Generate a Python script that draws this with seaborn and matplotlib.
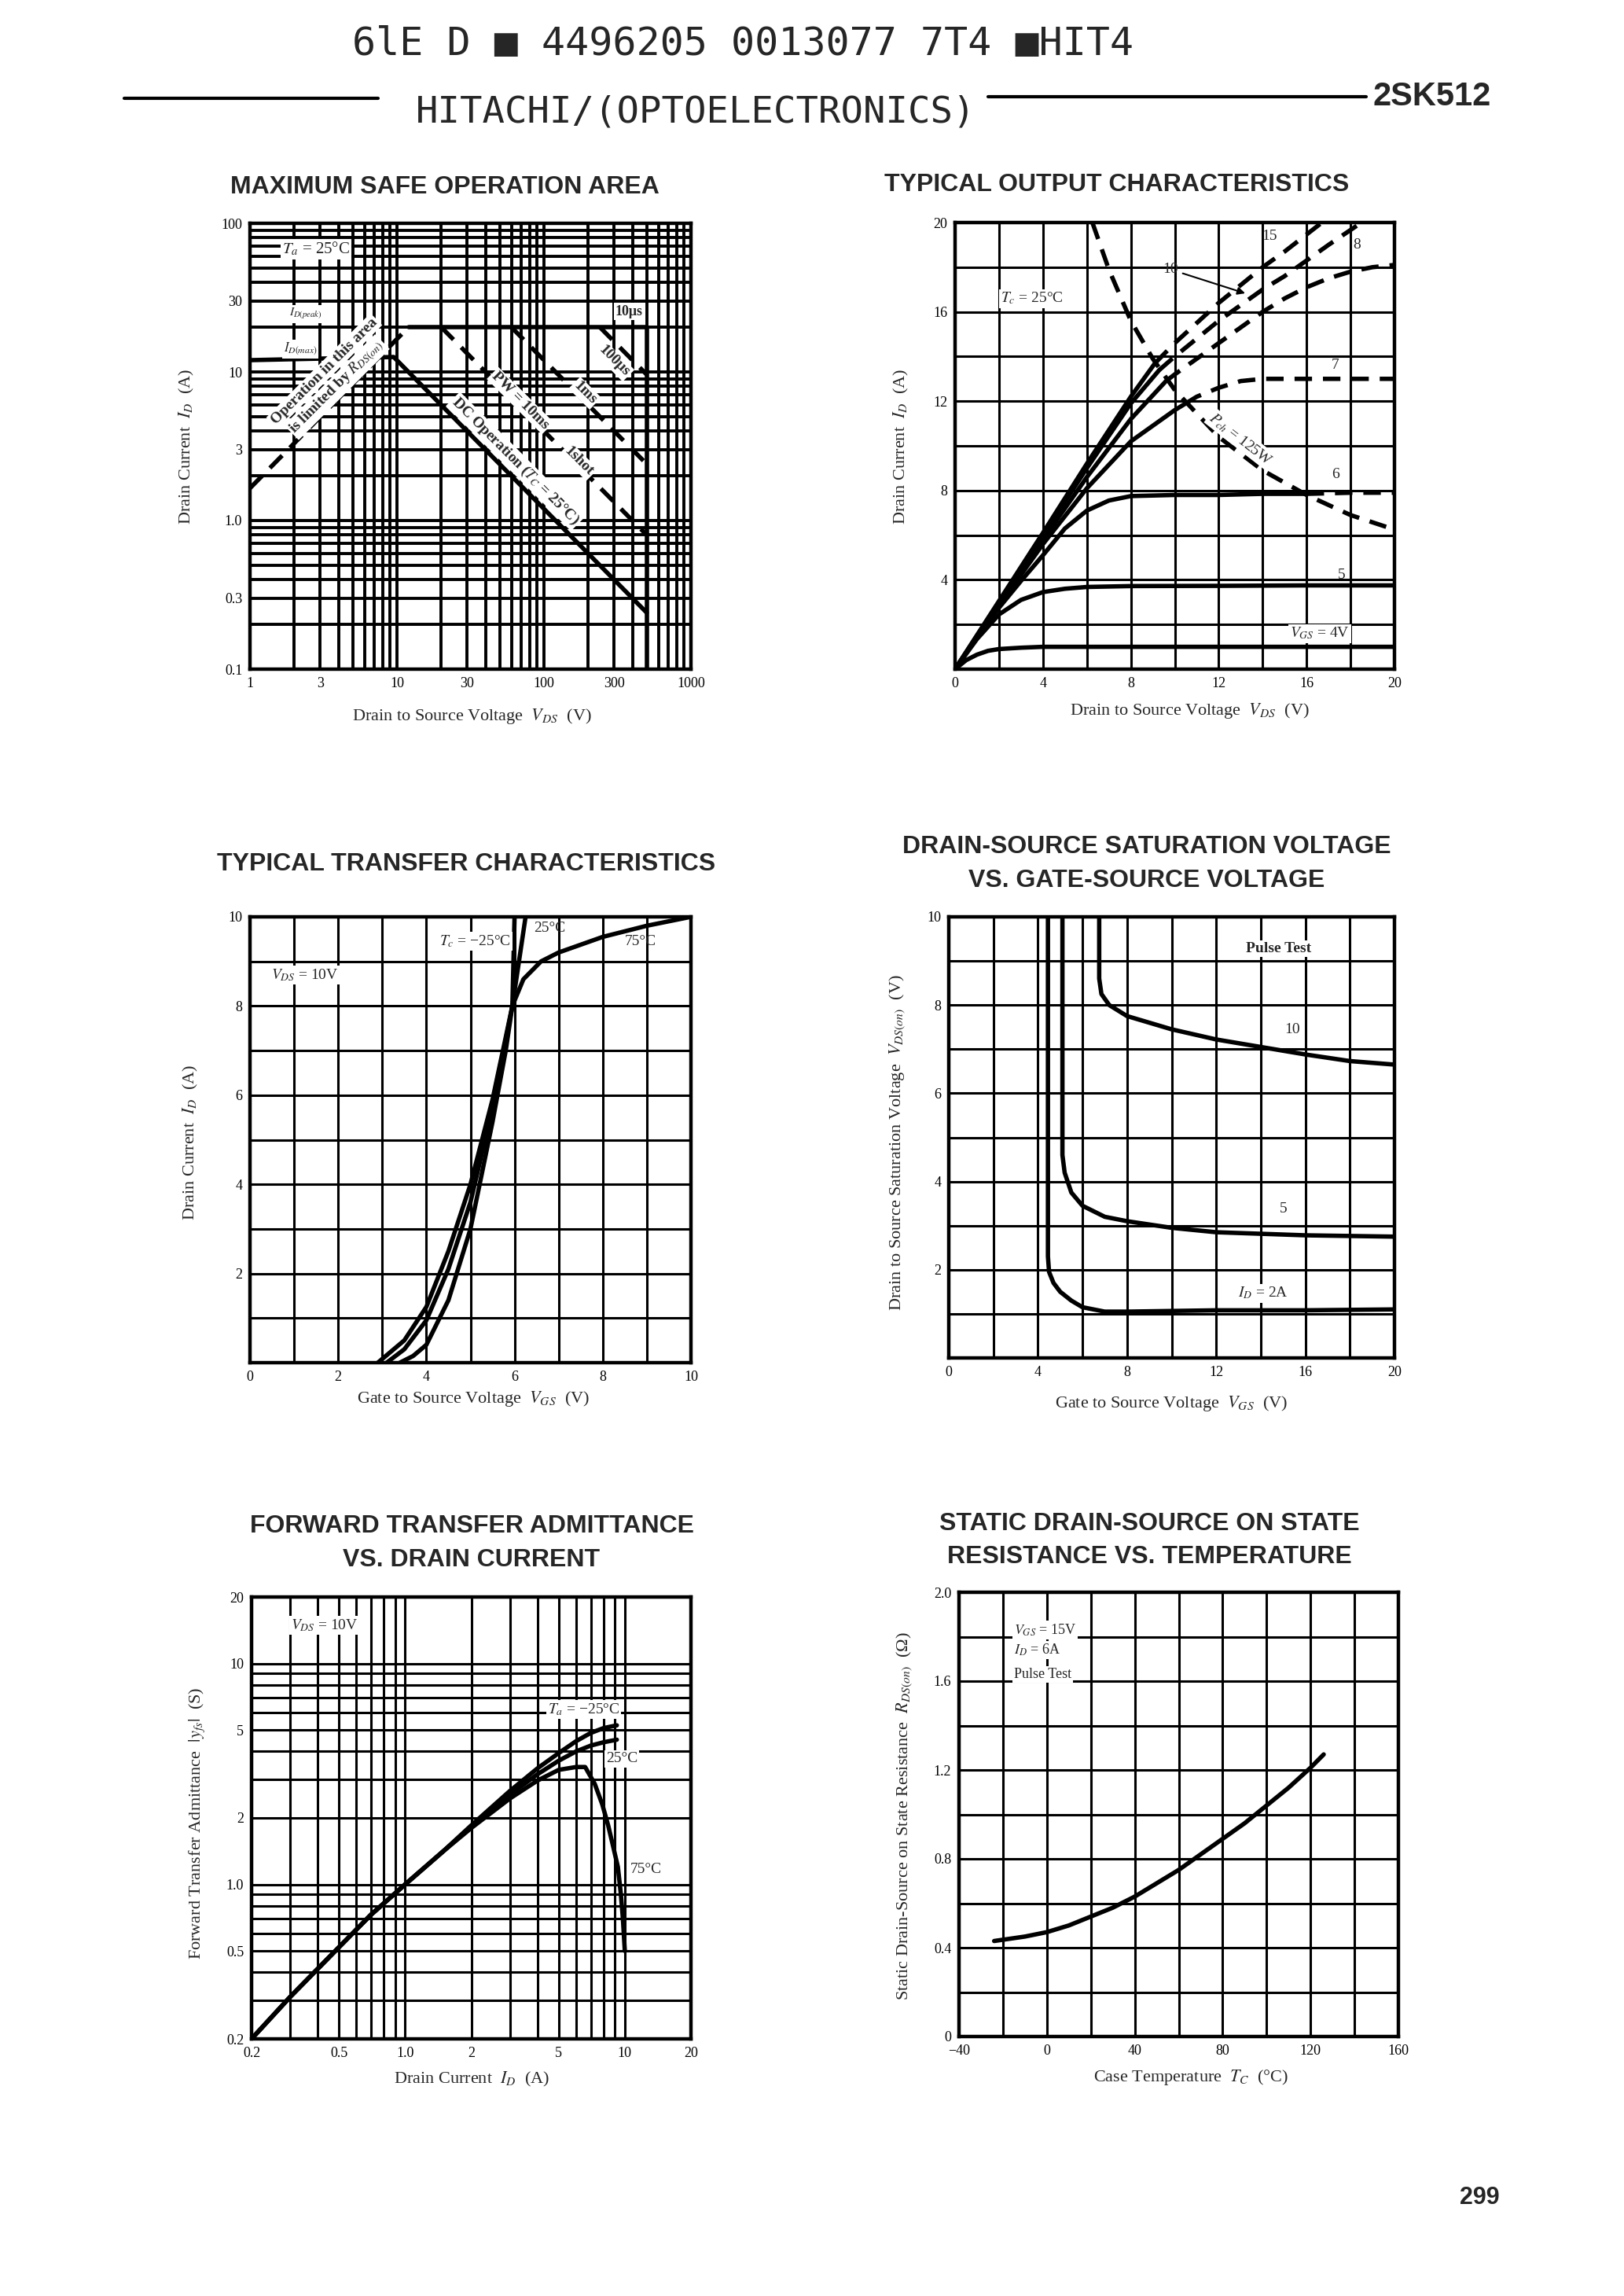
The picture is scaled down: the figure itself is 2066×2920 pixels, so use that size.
import numpy as np
import matplotlib
matplotlib.use("Agg")
import matplotlib.pyplot as plt
import seaborn as sns
from matplotlib.lines import Line2D
from matplotlib.ticker import FixedLocator, LogLocator, MultipleLocator, NullFormatter

# ==================================
# DATA
# ==================================

# Chart 1 - maximum safe operation area (VDS in V, ID in A)
soa_rds_v = [1, 12]
soa_rds_i = [1.65, 20]
soa_peak_v = [12, 500]
soa_peak_i = [20, 20]
soa_dc_v = [1, 9.5, 500]
soa_dc_i = [12, 12.6, 0.24]
soa_10ms_v = [20, 500]
soa_10ms_i = [20, 0.8]
soa_1ms_v = [60, 500]
soa_1ms_i = [20, 2.4]
soa_100us_v = [240, 500]
soa_100us_i = [20, 9.6]
soa_vdss_v = [500, 500]
soa_vdss_i = [20, 0.1]

# Chart 2 - typical output characteristics (solid up to the split VDS, dashed after)
out_4v_v = [0, 0.5, 1, 1.5, 2, 3, 4, 8, 12, 16, 20]
out_4v_i = [0, 0.4, 0.65, 0.82, 0.9, 0.96, 1.0, 1.0, 1.0, 1.0, 1.0]
out_5v_v = [0, 1, 2, 3, 4, 5, 6, 8, 12, 16, 20]
out_5v_i = [0, 1.35, 2.45, 3.1, 3.45, 3.6, 3.68, 3.72, 3.73, 3.75, 3.75]
out_6v_v = [0, 1, 2, 3, 4, 5, 6, 7, 8, 10, 12, 14, 16, 18, 20]
out_6v_i = [0, 1.45, 2.75, 3.95, 5.1, 6.3, 7.1, 7.55, 7.75, 7.8, 7.8, 7.85, 7.85, 7.9, 7.9]
out_7v_v = [0, 2, 4, 6, 8, 10, 10.5, 11, 12, 13, 14, 16, 18, 20]
out_7v_i = [0, 2.85, 5.6, 8.1, 10.2, 11.6, 11.9, 12.2, 12.6, 12.9, 13.0, 13.0, 13.0, 13.0]
out_8v_v = [0, 2, 4, 6, 8, 9.6, 10, 11, 12, 13, 14, 15, 16, 17, 18, 19, 20]
out_8v_i = [0, 2.9, 5.8, 8.6, 11.2, 12.9, 13.2, 13.9, 14.6, 15.3, 16.0, 16.6, 17.1, 17.5, 17.8, 18.0, 18.1]
out_10v_v = [0, 2, 4, 6, 8, 9.3, 10, 11, 12, 13, 14, 15, 16, 17, 18.5]
out_10v_i = [0, 3.0, 6.0, 9.0, 11.9, 13.4, 14.0, 14.8, 15.6, 16.3, 17.0, 17.6, 18.3, 19.0, 20.0]
out_15v_v = [0, 2, 4, 6, 8, 9.1, 10, 11, 12, 13, 14, 15, 16.7]
out_15v_i = [0, 3.05, 6.1, 9.2, 12.2, 13.7, 14.6, 15.5, 16.4, 17.2, 18.0, 18.7, 20.0]
out_split = {"4": 20, "5": 20, "6": 16, "7": 10.5, "8": 9.6, "10": 9.3, "15": 9.1}
pd_v = [6.25, 7, 8, 9, 10, 12, 14, 16, 18, 20]
pd_i = [20, 17.9, 15.6, 13.9, 12.5, 10.4, 8.9, 7.8, 6.9, 6.25]

# Chart 3 - typical transfer characteristics (VGS in V, ID in A)
tr_m25_v = [3.4, 3.7, 4.0, 4.5, 5.0, 5.5, 5.8, 5.95, 6.0]
tr_m25_i = [0, 0.15, 0.4, 1.4, 3.0, 5.4, 7.0, 8.0, 10.0]
tr_25_v = [3.1, 3.5, 4.0, 4.5, 5.0, 5.5, 5.95, 6.1, 6.25]
tr_25_i = [0, 0.3, 0.95, 2.1, 3.6, 5.7, 8.0, 9.0, 10.0]
tr_75_v = [2.9, 3.5, 4.0, 4.5, 5.0, 5.5, 5.95, 6.2, 6.6, 7.0, 8.0, 9.0, 10.0]
tr_75_i = [0, 0.5, 1.25, 2.5, 4.0, 5.9, 8.0, 8.6, 9.0, 9.2, 9.55, 9.8, 10.0]

# Chart 4 - VDS(on) vs VGS
sat_2a_vgs = [4.45, 4.45, 4.5, 4.7, 5.0, 5.5, 6.0, 7.0, 8.0, 12.0, 16.0, 20.0]
sat_2a_vds = [10, 2.3, 1.95, 1.7, 1.5, 1.3, 1.15, 1.05, 1.05, 1.08, 1.08, 1.1]
sat_5a_vgs = [5.1, 5.1, 5.2, 5.5, 6.0, 7.0, 8.0, 10.0, 12.0, 16.0, 20.0]
sat_5a_vds = [10, 4.6, 4.2, 3.75, 3.45, 3.2, 3.1, 2.95, 2.85, 2.78, 2.75]
sat_10a_vgs = [6.75, 6.75, 6.85, 7.2, 8.0, 10.0, 12.0, 14.0, 16.0, 18.0, 20.0]
sat_10a_vds = [10, 8.6, 8.25, 8.0, 7.75, 7.45, 7.22, 7.05, 6.88, 6.73, 6.65]

# Chart 5 - forward transfer admittance vs drain current
yfs_id = [0.2, 0.3, 0.5, 0.7, 1.0, 1.5, 2.0, 3.0, 4.0, 5.0, 6.0, 7.0, 8.0, 9.2]
yfs_m25 = [0.2, 0.31, 0.52, 0.73, 1.0, 1.42, 1.85, 2.65, 3.35, 3.93, 4.45, 4.85, 5.1, 5.25]
yfs_25 = [0.2, 0.31, 0.52, 0.73, 1.0, 1.42, 1.83, 2.55, 3.15, 3.63, 4.0, 4.25, 4.4, 4.52]
yfs_75_id = [0.2, 0.3, 0.5, 0.7, 1.0, 1.5, 2.0, 3.0, 4.0, 5.0, 6.0, 6.6, 7.3, 7.9, 8.4, 8.9, 9.3, 9.6, 9.8, 10.0]
yfs_75 = [0.2, 0.31, 0.52, 0.73, 1.0, 1.42, 1.8, 2.45, 2.95, 3.3, 3.4, 3.4, 2.85, 2.3, 1.85, 1.45, 1.2, 0.9, 0.7, 0.5]

# Chart 6 - RDS(on) vs case temperature
rds_tc = [-24, -10, 0, 10, 20, 30, 40, 50, 60, 70, 80, 90, 100, 110, 120, 126]
rds_ohm = [0.43, 0.45, 0.47, 0.5, 0.54, 0.58, 0.63, 0.69, 0.75, 0.82, 0.89, 0.96, 1.04, 1.12, 1.21, 1.27]

# ==================================
# STYLE / HELPERS
# ==================================

sns.set_theme(style="white")
plt.rcParams["font.family"] = ["Liberation Serif", "DejaVu Serif"]
plt.rcParams["mathtext.fontset"] = "stix"

W, H = 2066, 2920
fig = plt.figure(figsize=(W / 100, H / 100), dpi=100)
fig.patch.set_facecolor("white")

SANS = ["Liberation Sans", "DejaVu Sans"]
DASH = (0, (4, 2.5))


def panel(l, t, r, b):
    ax = fig.add_axes([l / W, 1 - b / H, (r - l) / W, (b - t) / H])
    ax.set_facecolor("white")
    for s in ax.spines.values():
        s.set_linewidth(3.2)
        s.set_color("black")
    ax.tick_params(which="both", length=0, labelsize=13, pad=7, colors="black")
    return ax


def curve(ax, x, y, dashed=False, lw=4.0):
    kw = {"linestyle": DASH} if dashed else {}
    sns.lineplot(x=x, y=y, ax=ax, color="black", lw=lw, sort=False,
                 estimator=None, legend=False, **kw)


def split_curve(ax, x, y, at):
    xs = [a for a in x if a <= at]
    ys = y[:len(xs)]
    curve(ax, xs, ys)
    k = len(xs) - 1
    if k < len(x) - 1:
        curve(ax, x[k:], y[k:], dashed=True)


def finish(ax, xlim, ylim, xticks, xlabels, yticks, ylabels, gw=2.2):
    ax.set_xlim(*xlim)
    ax.set_ylim(*ylim)
    ax.xaxis.set_major_locator(FixedLocator(xticks))
    ax.set_xticklabels(xlabels)
    ax.yaxis.set_major_locator(FixedLocator(yticks))
    ax.set_yticklabels(ylabels)
    ax.xaxis.set_minor_formatter(NullFormatter())
    ax.yaxis.set_minor_formatter(NullFormatter())
    ax.grid(which="both", color="black", lw=gw)
    ax.set_axisbelow(True)
    ax.set_xlabel("")
    ax.set_ylabel("")


def title(x, y, s):
    fig.text(x / W, 1 - y / H, s, ha="center", va="center", fontsize=23,
             fontweight="bold", family=SANS)


def xlab(x, y, s):
    fig.text(x / W, 1 - y / H, s, ha="center", va="center", fontsize=16)


def ylab(x, y, s):
    fig.text(x / W, 1 - y / H, s, ha="center", va="center", fontsize=16, rotation=90)


white = dict(facecolor="white", edgecolor="none", pad=1.5)

# ==================================
# HEADER
# ==================================

fig.text(945 / W, 1 - 56 / H, "6lE D \u25A0 4496205 0013077 7T4 \u25A0HIT4",
         ha="center", va="center", fontsize=36, family=["DejaVu Sans Mono"])
fig.text(885 / W, 1 - 143 / H, "HITACHI/(OPTOELECTRONICS)",
         ha="center", va="center", fontsize=34, family=["DejaVu Sans Mono"])
fig.add_artist(Line2D([158 / W, 481 / W], [1 - 125 / H] * 2, color="black", lw=3))
fig.add_artist(Line2D([1257 / W, 1738 / W], [1 - 123 / H] * 2, color="black", lw=3))
fig.text(1822 / W, 1 - 123 / H, "2SK512", ha="center", va="center",
         fontsize=30, fontweight="bold", family=SANS)
fig.text(1882 / W, 1 - 2795 / H, "299", ha="center", va="center",
         fontsize=22, fontweight="bold", family=SANS)

# ==================================
# CHART 1 - MAXIMUM SAFE OPERATION AREA
# ==================================

ax = panel(318, 284, 879, 851)
ax.set_xscale("log")
ax.set_yscale("log")
curve(ax, soa_rds_v, soa_rds_i, dashed=True)
curve(ax, soa_peak_v, soa_peak_i)
curve(ax, soa_dc_v, soa_dc_i)
curve(ax, soa_10ms_v, soa_10ms_i, dashed=True)
curve(ax, soa_1ms_v, soa_1ms_i, dashed=True)
curve(ax, soa_100us_v, soa_100us_i, dashed=True)
curve(ax, soa_vdss_v, soa_vdss_i)
ax.xaxis.set_minor_locator(LogLocator(base=10, subs=np.arange(2, 10), numticks=20))
ax.yaxis.set_minor_locator(LogLocator(base=10, subs=np.arange(2, 10), numticks=20))
finish(ax, (1, 1000), (0.1, 100),
       [1, 3, 10, 30, 100, 300, 1000], ["1", "3", "10", "30", "100", "300", "1000"],
       [0.1, 0.3, 1, 3, 10, 30, 100], ["0.1", "0.3", "1.0", "3", "10", "30", "100"], gw=2.8)
ax.text(2.8, 67, r"$T_a$ = 25°C", ha="center", va="center", fontsize=15, bbox=white)
ax.text(2.4, 24.5, r"$I_{D(peak)}$", ha="center", va="center", fontsize=11, bbox=white)
ax.text(2.2, 14.3, r"$I_{D(max)}$", ha="center", va="center", fontsize=12, bbox=white)
ax.text(3.2, 10.1, "Operation in this area", rotation=45, ha="center", va="center",
        fontsize=14, fontweight="bold", bbox=white, rotation_mode="anchor")
ax.text(3.9, 7.9, r"is limited by $R_{DS(on)}$", rotation=45, ha="center", va="center",
        fontsize=14, fontweight="bold", bbox=white, rotation_mode="anchor")
ax.text(64, 2.5, r"DC Operation ($T_C$ = 25°C)", rotation=-45, ha="center", va="center",
        fontsize=14, fontweight="bold", bbox=white, rotation_mode="anchor")
ax.text(69, 6.4, "PW = 10ms", rotation=-45, ha="center", va="center",
        fontsize=14, fontweight="bold", bbox=white, rotation_mode="anchor")
ax.text(190, 7.2, "1ms", rotation=-45, ha="center", va="center",
        fontsize=14, fontweight="bold", bbox=white, rotation_mode="anchor")
ax.text(172, 2.5, "1shot", rotation=-45, ha="center", va="center",
        fontsize=14, fontweight="bold", bbox=white, rotation_mode="anchor")
ax.text(300, 11.8, "100μs", rotation=-45, ha="center", va="center",
        fontsize=14, fontweight="bold", bbox=white, rotation_mode="anchor")
ax.text(380, 25.5, "10μs", ha="center", va="center", fontsize=13, fontweight="bold", bbox=white)
title(566, 238, "MAXIMUM SAFE OPERATION AREA")
ylab(237, 568, r"Drain Current  $I_D$  (A)")
xlab(600, 911, r"Drain to Source Voltage  $V_{DS}$  (V)")

# ==================================
# CHART 2 - TYPICAL OUTPUT CHARACTERISTICS
# ==================================

ax = panel(1215, 283, 1774, 851)
curves2 = {"4": (out_4v_v, out_4v_i), "5": (out_5v_v, out_5v_i), "6": (out_6v_v, out_6v_i),
           "7": (out_7v_v, out_7v_i), "8": (out_8v_v, out_8v_i),
           "10": (out_10v_v, out_10v_i), "15": (out_15v_v, out_15v_i)}
for key, (vv, ii) in curves2.items():
    split_curve(ax, vv, ii, out_split[key])
curve(ax, pd_v, pd_i, dashed=True)
ax.xaxis.set_minor_locator(MultipleLocator(2))
ax.yaxis.set_minor_locator(MultipleLocator(2))
finish(ax, (0, 20), (0, 20), [0, 4, 8, 12, 16, 20], ["0", "4", "8", "12", "16", "20"],
       [4, 8, 12, 16, 20], ["4", "8", "12", "16", "20"])
ax.text(3.5, 16.6, r"$T_c$ = 25°C", ha="center", va="center", fontsize=14, bbox=white)
ax.annotate("10", xy=(13.3, 16.8), xytext=(9.8, 17.9), fontsize=14, ha="center", va="center",
            arrowprops=dict(arrowstyle="-|>", color="black", lw=1.5))
ax.text(14.3, 19.4, "15", ha="center", va="center", fontsize=14)
ax.text(18.3, 19.0, "8", ha="center", va="center", fontsize=14)
ax.text(17.3, 13.6, "7", ha="center", va="center", fontsize=14)
ax.text(17.3, 8.7, "6", ha="center", va="center", fontsize=14)
ax.text(17.6, 4.2, "5", ha="center", va="center", fontsize=14)
ax.text(16.6, 1.6, r"$V_{GS}$ = 4V", ha="center", va="center", fontsize=14, bbox=white)
ax.text(13.0, 10.3, r"$P_{ch}$ = 125W", rotation=-38, ha="center", va="center", fontsize=14,
        bbox=white, rotation_mode="anchor")
title(1421, 235, "TYPICAL OUTPUT CHARACTERISTICS")
ylab(1146, 568, r"Drain Current  $I_D$  (A)")
xlab(1513, 904, r"Drain to Source Voltage  $V_{DS}$  (V)")

# ==================================
# CHART 3 - TYPICAL TRANSFER CHARACTERISTICS
# ==================================

ax = panel(318, 1166, 879, 1733)
curve(ax, tr_m25_v, tr_m25_i)
curve(ax, tr_25_v, tr_25_i)
curve(ax, tr_75_v, tr_75_i)
ax.xaxis.set_minor_locator(MultipleLocator(1))
ax.yaxis.set_minor_locator(MultipleLocator(1))
finish(ax, (0, 10), (0, 10), [0, 2, 4, 6, 8, 10], ["0", "2", "4", "6", "8", "10"],
       [2, 4, 6, 8, 10], ["2", "4", "6", "8", "10"])
ax.text(1.25, 8.7, r"$V_{DS}$ = 10V", ha="center", va="center", fontsize=14, bbox=white)
ax.text(5.1, 9.45, r"$T_c$ = −25°C", ha="center", va="center", fontsize=14, bbox=white)
ax.text(6.8, 9.75, "25°C", ha="center", va="center", fontsize=14)
ax.text(8.85, 9.45, "75°C", ha="center", va="center", fontsize=14)
title(593, 1099, "TYPICAL TRANSFER CHARACTERISTICS")
ylab(242, 1453, r"Drain Current  $I_D$  (A)")
xlab(602, 1779, r"Gate to Source Voltage  $V_{GS}$  (V)")

# ==================================
# CHART 4 - DRAIN-SOURCE SATURATION VOLTAGE
# ==================================

ax = panel(1207, 1166, 1774, 1727)
curve(ax, sat_2a_vgs, sat_2a_vds)
curve(ax, sat_5a_vgs, sat_5a_vds)
curve(ax, sat_10a_vgs, sat_10a_vds)
ax.xaxis.set_minor_locator(MultipleLocator(2))
ax.yaxis.set_minor_locator(MultipleLocator(1))
finish(ax, (0, 20), (0, 10), [0, 4, 8, 12, 16, 20], ["0", "4", "8", "12", "16", "20"],
       [2, 4, 6, 8, 10], ["2", "4", "6", "8", "10"])
ax.text(14.8, 9.28, "Pulse Test", ha="center", va="center", fontsize=14, fontweight="bold", bbox=white)
ax.text(15.4, 7.45, "10", ha="center", va="center", fontsize=14)
ax.text(15.0, 3.38, "5", ha="center", va="center", fontsize=14)
ax.text(14.1, 1.47, r"$I_D$ = 2A", ha="center", va="center", fontsize=14, bbox=white)
title(1459, 1077, "DRAIN-SOURCE SATURATION VOLTAGE")
title(1459, 1120, "VS. GATE-SOURCE VOLTAGE")
ylab(1142, 1453, r"Drain to Source Saturation Voltage  $V_{DS(on)}$  (V)")
xlab(1490, 1785, r"Gate to Source Voltage  $V_{GS}$  (V)")

# ==================================
# CHART 5 - FORWARD TRANSFER ADMITTANCE
# ==================================

ax = panel(320, 2031, 879, 2593)
ax.set_xscale("log")
ax.set_yscale("log")
curve(ax, yfs_id, yfs_m25)
curve(ax, yfs_id, yfs_25)
curve(ax, yfs_75_id, yfs_75)
ax.xaxis.set_minor_locator(LogLocator(base=10, subs=np.arange(2, 10), numticks=20))
ax.yaxis.set_minor_locator(LogLocator(base=10, subs=np.arange(2, 10), numticks=20))
finish(ax, (0.2, 20), (0.2, 20), [0.2, 0.5, 1, 2, 5, 10, 20],
       ["0.2", "0.5", "1.0", "2", "5", "10", "20"],
       [0.2, 0.5, 1, 2, 5, 10, 20], ["0.2", "0.5", "1.0", "2", "5", "10", "20"])
ax.text(0.43, 14.9, r"$V_{DS}$ = 10V", ha="center", va="center", fontsize=14, bbox=white)
ax.text(6.5, 6.2, r"$T_a$ = −25°C", ha="center", va="center", fontsize=14, bbox=white)
ax.text(9.7, 3.7, "25°C", ha="center", va="center", fontsize=14, bbox=white)
ax.text(12.5, 1.17, "75°C", ha="center", va="center", fontsize=14, bbox=white)
title(600, 1941, "FORWARD TRANSFER ADMITTANCE")
title(600, 1984, "VS. DRAIN CURRENT")
ylab(251, 2319, r"Forward Transfer Admittance  $|y_{fs}|$  (S)")
xlab(600, 2644, r"Drain Current  $I_D$  (A)")

# ==================================
# CHART 6 - RDS(ON) VS TEMPERATURE
# ==================================

ax = panel(1220, 2025, 1779, 2590)
curve(ax, rds_tc, rds_ohm)
ax.xaxis.set_minor_locator(MultipleLocator(20))
ax.yaxis.set_minor_locator(MultipleLocator(0.2))
finish(ax, (-40, 160), (0, 2.0), [-40, 0, 40, 80, 120, 160],
       ["−40", "0", "40", "80", "120", "160"],
       [0, 0.4, 0.8, 1.2, 1.6, 2.0], ["0", "0.4", "0.8", "1.2", "1.6", "2.0"])
ax.text(-15, 1.83, r"$V_{GS}$ = 15V", ha="left", va="center", fontsize=13, bbox=white)
ax.text(-15, 1.74, r"$I_D$ = 6A", ha="left", va="center", fontsize=13, bbox=white)
ax.text(-15, 1.63, "Pulse Test", ha="left", va="center", fontsize=13, bbox=white)
title(1462, 1938, "STATIC DRAIN-SOURCE ON STATE")
title(1462, 1980, "RESISTANCE VS. TEMPERATURE")
ylab(1151, 2310, r"Static Drain-Source on State Resistance  $R_{DS(on)}$  (Ω)")
xlab(1515, 2642, r"Case Temperature  $T_C$  (°C)")

fig.savefig("out.png", dpi=100, facecolor="white")
